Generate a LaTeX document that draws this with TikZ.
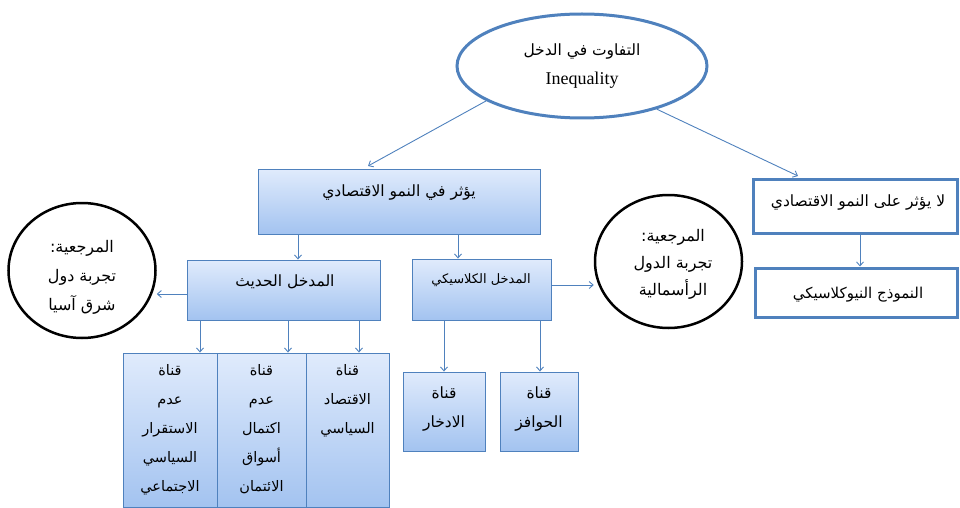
\documentclass[tikz,border=0pt]{standalone}
\usepackage{fontspec}
\setmainfont{Liberation Serif}
\newfontfamily\arabicfont[Script=Arabic]{DejaVu Sans}
\TeXXeTstate=1
\usetikzlibrary{arrows.meta,shapes.geometric,calc}
\definecolor{bcol}{RGB}{79,129,189}
\definecolor{gtop}{RGB}{224,235,252}
\definecolor{gbot}{RGB}{163,195,240}
\newcommand{\artx}[1]{{\arabicfont\beginR #1\endR}}
\begin{document}
\begin{tikzpicture}[x=1pt,y=-1pt,
  conn/.style={draw=bcol, line width=0.9pt, -{Straight Barb[length=4pt,width=7pt]}},
  gbox/.style={draw=bcol, line width=0.9pt, top color=gtop, bottom color=gbot, inner sep=0pt},
  wbox/.style={draw=bcol, line width=3pt, fill=white, inner sep=0pt},
  refc/.style={ellipse, draw=black, line width=2.5pt, inner sep=0pt},
  lab/.style={font=\fontsize{15.5}{29}\selectfont, align=center, inner sep=0pt},
  chan/.style={font=\fontsize{14.5}{29}\selectfont, align=center, inner sep=0pt, anchor=north},
]
\useasboundingbox (0,0) rectangle (960,508);

% top ellipse
\node[ellipse, draw=bcol, line width=3pt, minimum width=250, minimum height=104, align=center, inner sep=0pt] (ineq) at (582,66)
  {{\fontsize{15.5}{30}\selectfont\artx{التفاوت في الدخل}}\\[12pt]{\fontsize{18}{30}\selectfont Inequality}};

% second level
\node[gbox, minimum width=282, minimum height=65] (grow) at (399,201.5) {};
\node[lab] (growt) at (399,193) {\artx{يؤثر في النمو الاقتصادي}};

\node[wbox, minimum width=204, minimum height=54] (rtop) at (855,206) {};
\node[lab] (rtopt) at (858,203) {\artx{لا يؤثر على النمو الاقتصادي}};
\node[wbox, minimum width=202, minimum height=49] (rbot) at (856,292.5) {};
\node[lab, font=\fontsize{15}{29}\selectfont] (rbott) at (858,295) {\artx{النموذج النيوكلاسيكي}};

% third level
\node[gbox, minimum width=193, minimum height=60] (lmid) at (283.5,290) {};
\node[lab] (lmidt) at (285,282) {\artx{المدخل الحديث}};
\node[gbox, minimum width=139, minimum height=61] (cmid) at (481.5,289.5) {};
\node[lab, font=\fontsize{13}{29}\selectfont] (cmidt) at (481,280) {\artx{المدخل الكلاسيكي}};

% reference circles
\node[refc, minimum width=147, minimum height=135] (lcirc) at (82,270.5) {};
\node[lab, font=\fontsize{16}{29}\selectfont] (lcirct) at (82,277)
  {\artx{المرجعية:}\\\artx{تجربة دول}\\\artx{شرق آسيا}};
\node[refc, minimum width=147, minimum height=133] (rcirc) at (668.5,261.5) {};
\node[lab, font=\fontsize{16}{27}\selectfont] (rcirct) at (673,264)
  {\artx{المرجعية:}\\\artx{تجربة الدول}\\\artx{الرأسمالية}};

% bottom channels
\node[gbox, minimum width=94, minimum height=154] (b1) at (170,430) {};
\node[chan] (b1t) at (170,364) {\artx{قناة}\\\artx{عدم}\\\artx{الاستقرار}\\\artx{السياسي}\\\artx{الاجتماعي}};
\node[gbox, minimum width=89, minimum height=154] (b2) at (261.5,430) {};
\node[chan] (b2t) at (261.5,364) {\artx{قناة}\\\artx{عدم}\\\artx{اكتمال}\\\artx{أسواق}\\\artx{الائتمان}};
\node[gbox, minimum width=83, minimum height=154] (b3) at (347.5,430) {};
\node[chan] (b3t) at (347.5,364) {\artx{قناة}\\\artx{الاقتصاد}\\\artx{السياسي}};

\node[gbox, minimum width=82, minimum height=79] (c1) at (444,411.5) {};
\node[lab] (c1t) at (444,409) {\artx{قناة}\\\artx{الادخار}};
\node[gbox, minimum width=78, minimum height=79] (c2) at (539,411.5) {};
\node[lab] (c2t) at (539,409) {\artx{قناة}\\\artx{الحوافز}};

% helper coordinates
\coordinate (gin) at (368,166);
\coordinate (rin) at (798,176);
\coordinate (x1) at (298,0);
\coordinate (x2) at (458,0);
\coordinate (x3) at (860,0);
\coordinate (x4) at (200,0);
\coordinate (x5) at (288,0);
\coordinate (x6) at (359,0);
\coordinate (x7) at (444,0);
\coordinate (x8) at (540,0);
\coordinate (ly) at (0,294);
\coordinate (ry) at (0,285);

% connectors
\draw[conn] (ineq.200) -- (gin);
\draw[conn] (ineq.330) -- (rin);
\draw[conn] (grow.south -| x1) -- (lmid.north -| x1);
\draw[conn] (grow.south -| x2) -- (cmid.north -| x2);
\draw[conn] (rtop.south -| x3) -- (rbot.north -| x3);
\draw[conn] (lmid.west |- ly) -- (lcirc.east |- ly);
\draw[conn] (cmid.east |- ry) -- (rcirc.west |- ry);
\draw[conn] (lmid.south -| x4) -- (b1.north -| x4);
\draw[conn] (lmid.south -| x5) -- (b2.north -| x5);
\draw[conn] (lmid.south -| x6) -- (b3.north -| x6);
\draw[conn] (cmid.south -| x7) -- (c1.north -| x7);
\draw[conn] (cmid.south -| x8) -- (c2.north -| x8);
\end{tikzpicture}
\end{document}
